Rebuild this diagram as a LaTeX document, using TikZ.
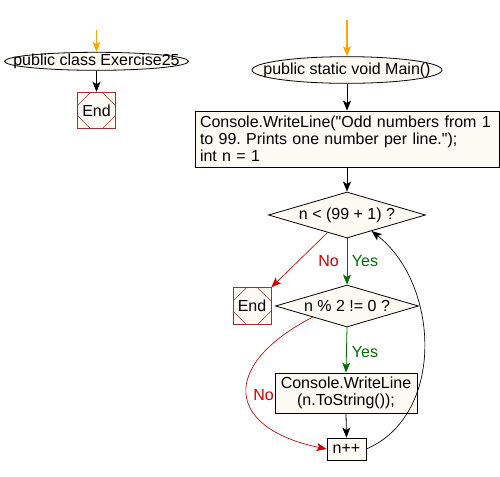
\documentclass[tikz,border=0pt]{standalone}
\usepackage{fontspec}
\setmainfont{Liberation Sans}[Ligatures=TeXOff]
\usetikzlibrary{shapes.geometric}
\usetikzlibrary{arrows.meta}

\definecolor{paper}{RGB}{253,250,243}
\definecolor{endred}{RGB}{153,51,51}
\definecolor{nored}{RGB}{204,0,0}
\definecolor{yesgreen}{RGB}{0,110,0}
\definecolor{startorange}{RGB}{255,165,0}

\begin{document}
\frenchspacing
\begin{tikzpicture}
[x=0.75pt,y=-0.75pt,line width=0.6pt,%
  >={Stealth[length=7.5pt,width=6pt,inset=1.8pt]},%
  every node/.style={font=\fontsize{12pt}{12.75pt}\selectfont,inner sep=0pt},%
  startstop/.style={shape=ellipse,draw,fill=paper},%
  process/.style={shape=rectangle,draw,fill=paper},%
  decision/.style={shape=diamond,aspect=3.5,draw,fill=paper},%
  endbox/.style={shape=rectangle,draw=endred,fill=paper,%
    minimum width=28.5pt,minimum height=27.5pt,%
    path picture={
      \draw[endred,line width=0.5pt]
        ([yshift=-10pt]path picture bounding box.north west) -- ([xshift=10pt]path picture bounding box.north west)
        ([xshift=-10pt]path picture bounding box.north east) -- ([yshift=-10pt]path picture bounding box.north east)
        ([yshift=10pt]path picture bounding box.south east) -- ([xshift=-10pt]path picture bounding box.south east)
        ([xshift=10pt]path picture bounding box.south west) -- ([yshift=10pt]path picture bounding box.south west);
    }}]
\useasboundingbox (0,0) rectangle (500,476);
%%
\coordinate (in1) at (96.5,30);
\node[startstop,minimum width=138pt,minimum height=13.5pt,
  label=center:{public class Exercise25}] (cls) at (96.5,61.3) {};
\node[endbox] (end1) at (96.5,110.5) {End};
%%
\coordinate (in2) at (347,20);
\node[startstop,minimum width=142.5pt,minimum height=20pt,
  label=center:{public static void Main()}] (main) at (347,70) {};
\node[process,minimum width=228pt,minimum height=42pt,
  inner xsep=3.75pt,text width=220.5pt,align=left] (init) at (347,139)
  {Console.WriteLine("Odd numbers from 1\\
   to 99. Prints one number per line.");\\
   int n = 1};
\node[decision,minimum width=117.75pt,minimum height=34.5pt] (cond) at (347,215)
  {n < (99 + 1) ?};
\node[endbox] (end2) at (252,306) {End};
\node[decision,minimum width=107.25pt,minimum height=31.5pt] (odd) at (347,306)
  {n \% 2 != 0 ?};
\node[process,minimum width=106.5pt,minimum height=30pt,align=center] (print) at (346,393)
  {Console.WriteLine\\(n.ToString());};
\node[process,minimum width=29.25pt,minimum height=16.5pt] (inc) at (346.5,449) {n++};
%%
\node[text=nored] (no1) at (328.5,261) {No};
\node[text=yesgreen] (yes1) at (365,261) {Yes};
\node[text=yesgreen] (yes2) at (365,352) {Yes};
\node[text=nored] (no2) at (263.5,395) {No};
%%
\path
\foreach \startNode/\endNode in {in1/cls, in2/main}
{
  (\startNode) edge[->,startorange,line width=0.9pt] (\endNode.north)
};
\path
\foreach \startNode/\endNode in {cls/end1, main/init, init/cond, print/inc}
{
  (\startNode.south) edge[->] (\endNode.north)
};
\path
\foreach \startNode/\endNode in {cond/odd, odd/print}
{
  (\startNode.south) edge[->,yesgreen] (\endNode.north)
};
\draw[->,nored,line width=0.5pt] (cond.222) -- (end2.north east);
\draw[->,nored,line width=0.5pt] (odd.198) .. controls (220,365) and (225,428) .. (inc.west);
\draw[->,line width=0.5pt] (inc.east) .. controls (445,415) and (440,285) .. (cond.327);
\end{tikzpicture}
\end{document}
